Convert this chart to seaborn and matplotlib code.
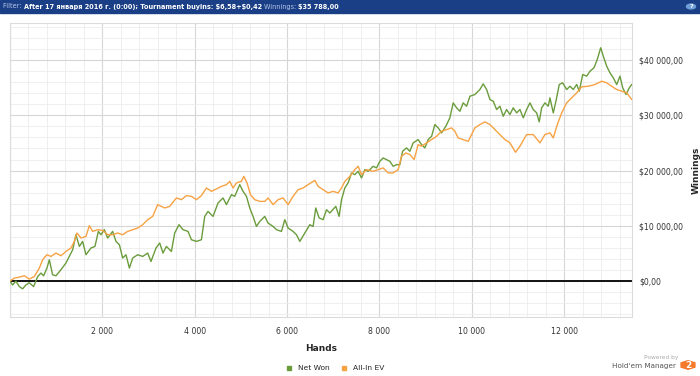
import seaborn as sns
import matplotlib.pyplot as plt
import matplotlib.ticker as mticker
from matplotlib.lines import Line2D
from matplotlib.patches import RegularPolygon
import pandas as pd

# Net Won curve (hands, $)
net_hands = [0, 56, 128, 202, 273, 345, 418, 511, 598, 670, 728, 800, 852, 923, 995,
             1103, 1211, 1285, 1357, 1428, 1502, 1573, 1645, 1753, 1840, 1913, 1970, 2043,
             2115, 2223, 2295, 2369, 2440, 2512, 2585, 2657, 2765, 2873, 2982, 3053, 3162,
             3242, 3313, 3387, 3495, 3567, 3660, 3747, 3855, 3929, 4037, 4145, 4217, 4289,
             4397, 4505, 4614, 4687, 4796, 4867, 4975, 5047, 5121, 5192, 5264, 5337, 5409,
             5517, 5589, 5697, 5771, 5879, 5951, 6022, 6130, 6204, 6276, 6384, 6492, 6564,
             6622, 6694, 6781, 6854, 6926, 7056, 7127, 7179, 7251, 7322, 7396, 7467, 7539,
             7613, 7684, 7756, 7864, 7938, 8009, 8081, 8154, 8226, 8297, 8371, 8443, 8501,
             8588, 8659, 8731, 8839, 8913, 8984, 9056, 9130, 9201, 9273, 9346, 9439, 9526,
             9598, 9671, 9743, 9814, 9888, 9960, 10068, 10176, 10248, 10322, 10393, 10465,
             10538, 10610, 10681, 10755, 10826, 10898, 10972, 11043, 11115, 11188, 11260,
             11331, 11405, 11461, 11513, 11585, 11656, 11693, 11765, 11823, 11895, 11968,
             12055, 12127, 12198, 12272, 12328, 12402, 12489, 12560, 12647, 12718, 12792,
             12848, 12922, 12993, 13065, 13139, 13210, 13269, 13340, 13412, 13464]
net_won = [0, -700, 0, -1000, -1400, -700, -300, -1000, 800, 1450, 950, 2350, 3860, 1140, 960,
           2050, 3260, 4460, 5670, 8390, 6270, 7180, 4770, 5980, 6270, 8990, 8390, 9300,
           7790, 8990, 7180, 6580, 4170, 4770, 2350, 4170, 4770, 4460, 5070, 3550, 5980,
           6890, 5070, 6270, 5360, 8700, 10200, 9300, 8990, 7480, 7180, 7480, 11700, 12610,
           11700, 14130, 15040, 13830, 15640, 15330, 17450, 16240, 15330, 13230, 11700, 9890, 10800,
           11700, 10500, 9890, 9300, 8990, 11110, 9600, 8990, 8390, 7180, 8700, 10200, 9890,
           13230, 11420, 11110, 12920, 12320, 13520, 11700, 14730, 16850, 17760, 19570, 19260, 19860,
           18660, 20170, 19860, 20770, 20480, 21670, 22290, 21980, 21670, 20770, 21070, 21070, 23480,
           24100, 23480, 25010, 25600, 24700, 24100, 25600, 26200, 28320, 27720, 26820, 28020, 29540,
           32250, 31350, 30730, 32250, 31640, 33450, 33760, 34660, 35690, 34660, 32850, 32540,
           31040, 31640, 29830, 31040, 30130, 31350, 30440, 31040, 29540, 31040, 32250,
           31040, 30440, 28810, 31350, 32250, 31640, 33160, 30440, 32540, 35570, 35880,
           34660, 35260, 34660, 35570, 34360, 37380, 37080, 37980, 38600, 40100, 42220,
           40700, 38890, 37690, 36780, 35570, 37080, 34970, 33760, 34970, 35570]

# All-In EV curve (hands, $)
ev_hands = [0, 93, 202, 310, 418, 527, 635, 706, 800, 886, 995, 1103, 1211, 1320, 1393,
            1450, 1536, 1645, 1718, 1790, 1898, 2007, 2115, 2223, 2332, 2440, 2548, 2657,
            2765, 2873, 2982, 3090, 3198, 3307, 3350, 3458, 3604, 3712, 3820, 3929, 4037,
            4145, 4254, 4362, 4470, 4579, 4687, 4759, 4830, 4904, 5012, 5062, 5134, 5207,
            5300, 5409, 5517, 5589, 5697, 5805, 5914, 6022, 6130, 6239, 6347, 6455, 6601,
            6672, 6781, 6889, 6997, 7106, 7179, 7251, 7359, 7467, 7539, 7613, 7721, 7864,
            7972, 8081, 8189, 8297, 8406, 8479, 8573, 8659, 8752, 8839, 8913, 9021, 9130,
            9238, 9346, 9455, 9563, 9634, 9706, 9814, 9923, 9996, 10068, 10176, 10285,
            10393, 10501, 10610, 10718, 10826, 10948, 11043, 11188, 11331, 11476, 11585,
            11693, 11765, 11852, 11948, 12055, 12163, 12272, 12380, 12524, 12669, 12814,
            12922, 13030, 13139, 13247, 13356, 13464]
allin_ev = [0, 540, 720, 960, 360, 830, 2350, 3860, 4770, 4460, 5070, 4580, 5360, 5980, 7180,
            8700, 7790, 8080, 10020, 8990, 9300, 9170, 8390, 8390, 8700, 8390, 8990, 9300,
            9600, 10200, 11110, 11700, 13830, 13400, 13230, 13520, 15040, 14730, 15460, 15330, 14730,
            15460, 16850, 16240, 16670, 17140, 17450, 18050, 16850, 17760, 18050, 18950, 17760, 15640,
            14730, 14420, 14420, 15040, 13830, 14730, 15040, 13830, 15330, 16540, 16850, 17450, 18230,
            17140, 16540, 15950, 16240, 15950, 16850, 18050, 18950, 20170, 20770, 19260, 20170, 19860,
            20170, 20480, 19570, 19570, 20170, 22580, 23190, 22890, 21980, 24700, 24400, 25010, 25600,
            26200, 27110, 27420, 27720, 27110, 25910, 25600, 25290, 26510, 27720, 28320, 28810,
            28320, 27420, 26510, 25600, 25010, 23300, 24400, 26510, 26510, 25010, 26510,
            26820, 25910, 28320, 30440, 32250, 33160, 34070, 35150, 35260, 35570, 36170,
            35880, 35260, 34660, 34360, 34070, 32850]

series_names = ['Net Won', 'All-In EV']
series_colors = ['#6a9c3c', '#f7a243']

df = pd.concat([
    pd.DataFrame({'Hands': net_hands, 'Winnings': net_won, 'Series': series_names[0]}),
    pd.DataFrame({'Hands': ev_hands, 'Winnings': allin_ev, 'Series': series_names[1]}),
])

sns.set_style('white')
plt.rcParams['font.family'] = ['DejaVu Sans']

fig = plt.figure(figsize=(7, 3.76), dpi=100)
ax = fig.add_axes([10 / 700, 59 / 376, 622 / 700, 294 / 376])

# grid first so lines sit above it
ax.xaxis.set_major_locator(mticker.MultipleLocator(2000))
ax.xaxis.set_minor_locator(mticker.MultipleLocator(400))
ax.yaxis.set_major_locator(mticker.MultipleLocator(10000))
ax.yaxis.set_minor_locator(mticker.MultipleLocator(2000))
ax.grid(which='major', color='#d6d6d6', lw=0.8)
ax.grid(which='minor', color='#ececec', lw=0.6)
ax.set_axisbelow(True)

ax.axhline(0, color='#111111', lw=1.4, zorder=2)
sns.lineplot(data=df, x='Hands', y='Winnings', hue='Series', hue_order=series_names,
             palette=series_colors, estimator=None, sort=False, lw=1.0, legend=False,
             ax=ax, zorder=3)

ax.set_xlim(0, 13470)
ax.set_ylim(-6500, 46700)

for s in ax.spines.values():
    s.set_color('#dcdcdc')
    s.set_linewidth(0.8)

ax.yaxis.tick_right()
ax.yaxis.set_label_position('right')
ax.yaxis.set_major_formatter(mticker.FuncFormatter(
    lambda v, p: '$' + f'{v:,.2f}'.replace(',', ' ').replace('.', ',')))
ax.xaxis.set_major_formatter(mticker.FuncFormatter(
    lambda v, p: '' if v == 0 else f'{v:,.0f}'.replace(',', ' ')))
ax.tick_params(which='both', length=0, labelsize=5.6, colors='#333333')
ax.tick_params(axis='x', pad=7)
ax.tick_params(axis='y', pad=5)
ax.set_xlabel('Hands', fontsize=6.5, fontweight='bold', labelpad=6)
ax.set_ylabel('Winnings', fontsize=6.5, fontweight='bold', labelpad=6)

# header bar
fig.patches.append(plt.Rectangle((0, 1 - 13 / 376), 1, 13 / 376, transform=fig.transFigure,
                                 color='#1b3f86', zorder=0))
hy = 1 - 6.5 / 376
parts = [('Filter: ', 'normal', '#b8c8e8'),
         (r'After 17 января 2016 г. (0:00); Tournament buyins: \$6,58+\$0,42 ', 'bold', 'white'),
         ('Winnings: ', 'normal', '#b8c8e8'),
         (r'\$35 788,00', 'bold', 'white')]
x0 = 3 / 700
fig.canvas.draw()
r = fig.canvas.get_renderer()
for txt, w, c in parts:
    t = fig.text(x0, hy, txt, fontsize=4.7, fontweight=w, color=c, va='center', ha='left')
    bb = t.get_window_extent(renderer=r)
    x0 += bb.width / 700
fig.patches.append(plt.Circle((691 / 700, hy), 4.5 / 700, transform=fig.transFigure,
                              color='#6f9fd8', zorder=1))
fig.text(691 / 700, hy, '?', fontsize=4.5, color='white', fontweight='bold',
         ha='center', va='center')

# legend
handles = [Line2D([], [], marker='s', ls='', color=c, markersize=3) for c in series_colors]
fig.legend(handles, series_names, loc='center', bbox_to_anchor=(333 / 700, 1 - 368 / 376),
           ncol=2, frameon=False, fontsize=5.4, handletextpad=0.2, columnspacing=1.0)

# branding
fig.text(678 / 700, 1 - 357 / 376, 'Powered by', fontsize=4.2, color='#aaaaaa', ha='right', va='center')
fig.text(676 / 700, 1 - 366 / 376, "Hold'em Manager", fontsize=5.2, color='#555555', ha='right', va='center')
fig.patches.append(RegularPolygon((688 / 700, 1 - 365 / 376), 6, radius=8 / 700,
                                  transform=fig.transFigure, color='#f47a2a'))
fig.text(688 / 700, 1 - 365 / 376, '2', fontsize=6.5, color='white', fontweight='bold',
         ha='center', va='center')

fig.savefig('out.png', dpi=100)
